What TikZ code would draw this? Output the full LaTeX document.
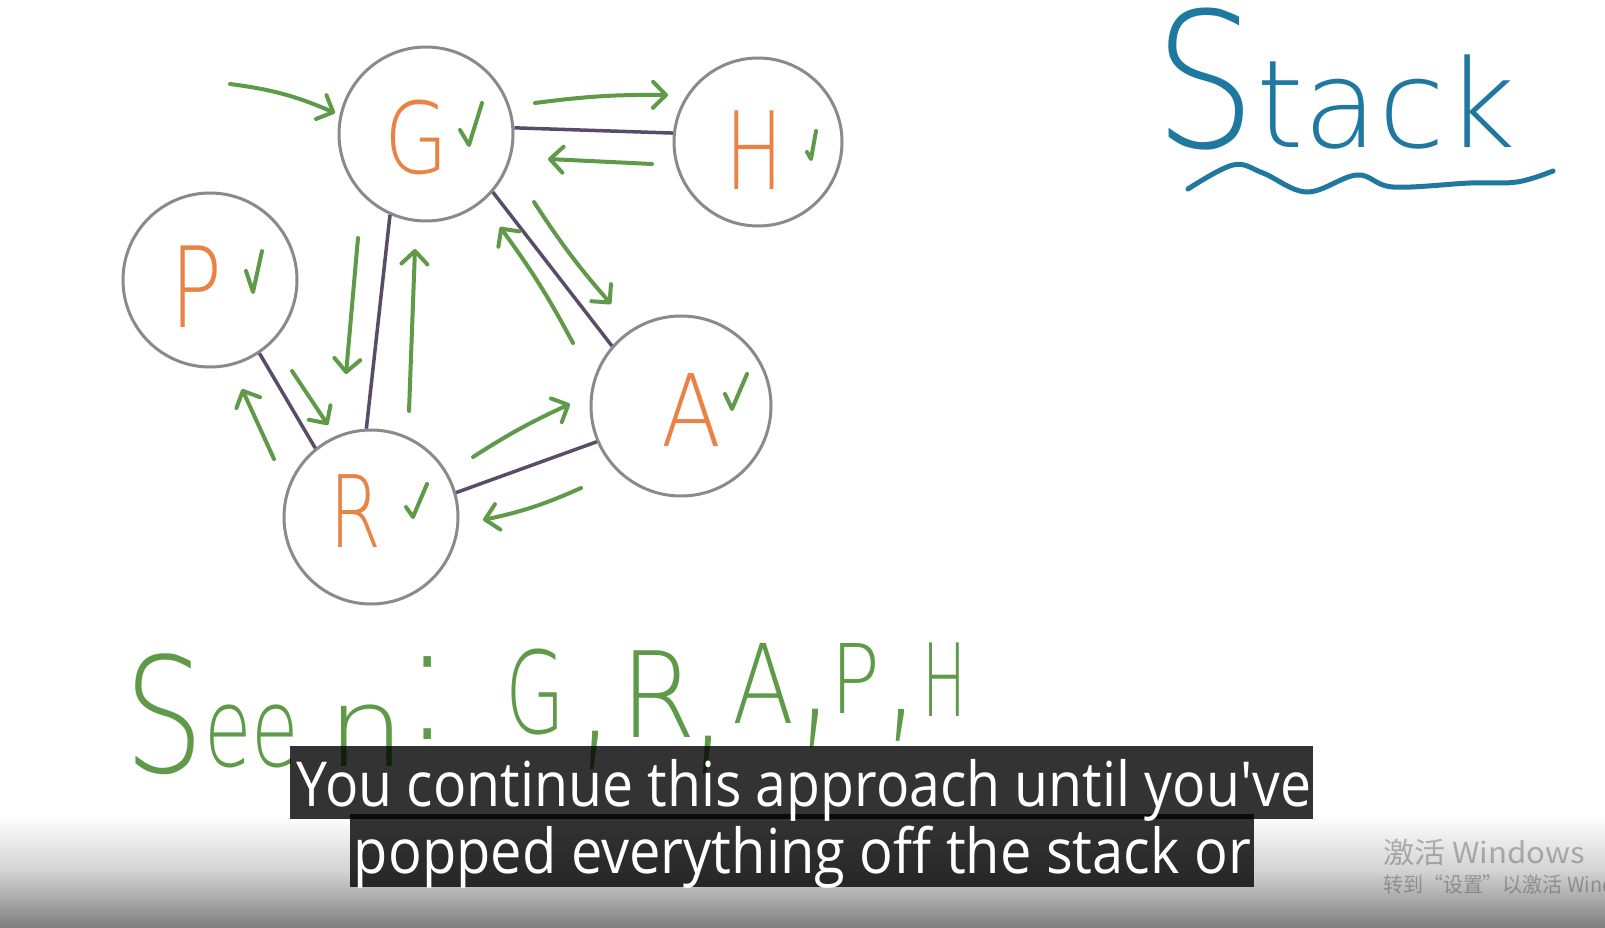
\documentclass[tikz,border=0pt]{standalone}
\usepackage{fontspec}
\usepackage{graphicx}
\usetikzlibrary{arrows.meta}
\IfFontExistsTF{DejaVu Sans ExtraLight}
  {\newfontfamily\hand{DejaVu Sans ExtraLight}}
  {\IfFontExistsTF{DejaVuSans-ExtraLight.ttf}
    {\newfontfamily\hand{DejaVuSans-ExtraLight.ttf}}
    {\IfFontExistsTF{Lato Light}
      {\newfontfamily\hand{Lato Light}}
      {\newfontfamily\hand{Fira Sans}}}}
\newfontfamily\subfont{Open Sans}
\newfontfamily\cjk{Noto Sans CJK SC}
\definecolor{gorange}{HTML}{EA8246}
\definecolor{ggreen}{HTML}{5E9A48}
\definecolor{gpurple}{HTML}{5A4B69}
\definecolor{gblue}{HTML}{1E78A0}
\definecolor{ggray}{HTML}{8A8A8A}
\definecolor{gradmid}{HTML}{D2D2D2}
\definecolor{gradbot}{HTML}{7E7E7E}
\newcommand\fitw[2]{\resizebox{#1}{\height}{#2}}
\newcommand\fsz[1]{\fontsize{#1}{#1}\selectfont}
\begin{document}
\begin{tikzpicture}[x=1pt,y=-1pt,
  vertex/.style={circle,draw=ggray,line width=3pt,minimum size=#1,inner sep=0pt},
  lab/.style={text=gorange,inner sep=0pt,font=\hand},
  edge/.style={draw=gpurple,line width=3.5pt},
  move/.style={draw=ggreen,line width=4pt,line cap=round,line join=round,
    -{Straight Barb[length=13pt,width=26pt,round]}},
  tick/.style={draw=ggreen,line width=4pt,line cap=round,line join=round},
  seen/.style={text=ggreen,inner sep=0pt,font=\hand},
  subbox/.style={fill=black,fill opacity=0.8,inner sep=0pt,draw=none},
  subtxt/.style={text=white,font=\subfont,inner sep=0pt},
  wmark/.style={inner sep=0pt,text=black,text opacity=0.26,font=\cjk,anchor=base west}]
\fill[white] (0,0) rectangle (1605,928);
\useasboundingbox (0,0) rectangle (1605,928);
\shade[top color=white,bottom color=gradbot,middle color=gradmid] (0,815) rectangle (1605,928);

% graph
\node[vertex=174pt] (G) at (426,134) {};
\node[vertex=168pt] (H) at (758,142) {};
\node[vertex=174pt] (P) at (210,280) {};
\node[vertex=180pt] (A) at (681,406) {};
\node[vertex=174pt] (R) at (371,517) {};

\draw[edge] (G.4) -- (H.174);
\draw[edge] (G.-41) -- (A.139);
\draw[edge] (G.-114) -- (R.93);
\draw[edge] (P.-56) -- (R.129);
\draw[edge] (R.16) -- (A.203);

\node[lab] (lG) at (416,137) {\fsz{99}\fitw{64pt}{G}};
\node[lab] (lH) at (754,150) {\fsz{108}\fitw{58pt}{H}};
\node[lab] (lP) at (196,287) {\fsz{112}\fitw{52pt}{P}};
\node[lab] (lA) at (691,410) {\fsz{100}\fitw{60pt}{A}};
\node[lab] (lR) at (355,511) {\fsz{100}\fitw{52pt}{R}};

\draw[tick] (460,130) -- (469,145) -- (482,103);
\draw[tick] (807,152) -- (811,159) -- (816,131);
\draw[tick] (246,271) -- (253,292) -- (262,251);
\draw[tick] (725,394) -- (732,409) -- (747,374);
\draw[tick] (406,507) -- (413,517) -- (427,484);

% traversal arrows
\coordinate (in0) at (230,84);   \coordinate (in1) at (335,113);
\coordinate (gh0) at (535,103);  \coordinate (gh1) at (668,95);
\coordinate (hg0) at (652,164);  \coordinate (hg1) at (548,159);
\coordinate (ga0) at (534,202);  \coordinate (ga1) at (611,304);
\coordinate (ag0) at (573,343);  \coordinate (ag1) at (500,227);
\coordinate (gr0) at (358,238);  \coordinate (gr1) at (346,374);
\coordinate (rg0) at (409,411);  \coordinate (rg1) at (415,249);
\coordinate (pr0) at (292,371);  \coordinate (pr1) at (328,425);
\coordinate (rp0) at (274,459);  \coordinate (rp1) at (242,389);
\coordinate (ra0) at (473,457);  \coordinate (ra1) at (570,404);
\coordinate (ar0) at (581,488);  \coordinate (ar1) at (483,520);
\draw[move] (in0) to[bend left=8] (in1);
\draw[move] (gh0) to[bend left=4] (gh1);
\draw[move] (hg0) -- (hg1);
\draw[move] (ga0) to[bend right=4] (ga1);
\draw[move] (ag0) to[bend right=4] (ag1);
\draw[move] (gr0) -- (gr1);
\draw[move] (rg0) -- (rg1);
\draw[move] (pr0) -- (pr1);
\draw[move] (rp0) -- (rp1);
\draw[move] (ra0) to[bend left=4] (ra1);
\draw[move] (ar0) to[bend left=6] (ar1);

% Stack
\node[text=gblue,font=\hand,inner sep=0pt,anchor=base west] (stack) at (1154,148)
  {\fsz{188}\fitw{102pt}{S}\fsz{122}\fitw{260pt}{tack}};
\draw[gblue,line width=5pt,line cap=round] plot[smooth,tension=0.6] coordinates
  {(1188,189) (1233,165) (1263,173) (1307,192) (1357,175) (1393,187) (1470,183) (1517,182) (1553,171)};

% Seen
\node[seen,anchor=base west] (seenw) at (124,772)
  {\fsz{160}\fitw{80pt}{S}\raisebox{6pt}{\fsz{110}\fitw{95pt}{ee}\hspace{28pt}\fitw{78pt}{n}}};
\node[seen] (colon) at (428,698) {\fsz{115}\scalebox{1.3}[1.5]{:}};
\node[seen] (sG) at (535,692) {\fsz{114}\fitw{60pt}{G}};
\node[seen] (sR) at (658,694) {\fsz{119}\fitw{76pt}{R}};
\node[seen] (sA) at (763,683) {\fsz{110}\fitw{62pt}{A}};
\node[seen] (sP) at (855,678) {\fsz{96}\fitw{50pt}{P}};
\node[seen] (sH) at (944,680) {\fsz{101}\fitw{44pt}{H}};
\node[seen,anchor=north] (c1) at (596,731) {\fsz{120}\scalebox{1}[1.8]{,}};
\node[seen,anchor=north] (c2) at (709,736) {\fsz{120}\scalebox{1}[1.8]{,}};
\node[seen,anchor=north] (c3) at (816,709) {\fsz{120}\scalebox{1}[1.8]{,}};
\node[seen,anchor=north] (c4) at (902,709) {\fsz{120}\scalebox{1}[1.5]{,}};

% subtitles
\node[subbox,minimum width=1023pt,minimum height=73pt] (box1) at (801.5,782.5) {};
\node[subbox,minimum width=904pt,minimum height=73pt] (box2) at (802,850.5) {};
\node[subtxt,anchor=base] (line1) at (804,806) {\fsz{62}\fitw{1014pt}{You continue this approach until you've}};
\node[subtxt,anchor=base] (line2) at (802.5,873) {\fsz{62}\fitw{897pt}{popped everything off the stack or}};

% watermark
\node[wmark] (wm1) at (1383,863) {\fsz{29}\fitw{202pt}{激活 Windows}};
\node[wmark] (wm2) at (1383,892) {\fsz{21}\scalebox{0.95}[1]{转到“设置”以激活 Windows}};
\end{tikzpicture}
\end{document}
